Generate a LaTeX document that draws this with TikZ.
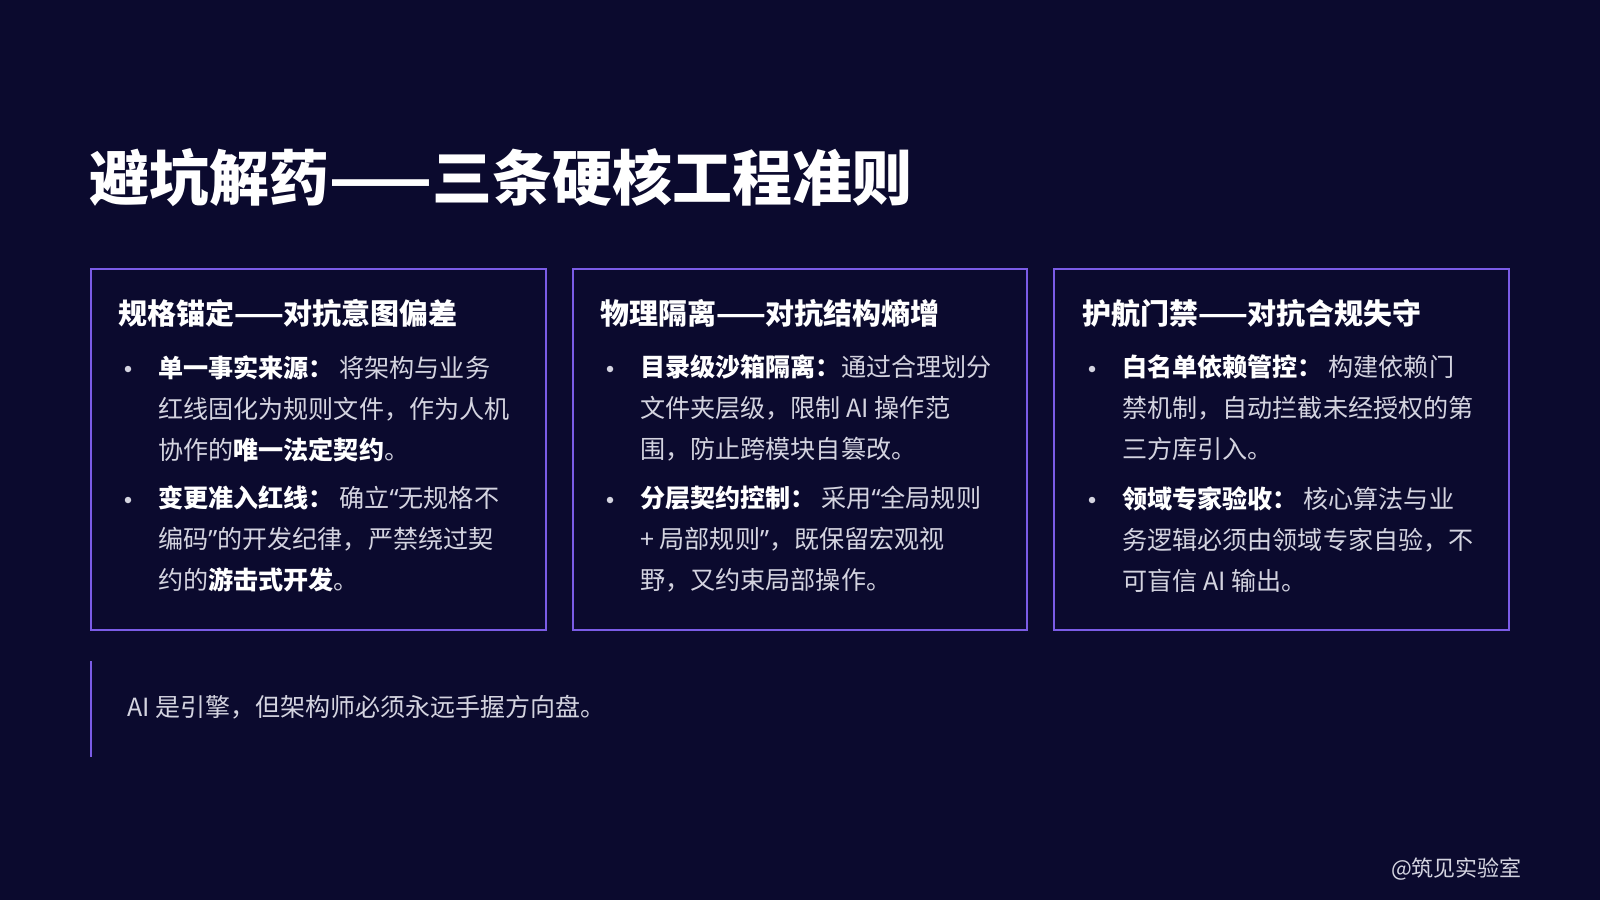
\documentclass[tikz,border=0pt]{standalone}
\usepackage{fontspec}
\setmainfont{Noto Sans CJK SC}
\newfontfamily\latinq{Noto Sans}
\usetikzlibrary{positioning}
\definecolor{bgnavy}{HTML}{0B0A2E}
\definecolor{edgepurple}{HTML}{7B5CE6}
\definecolor{bodygray}{HTML}{D4D4E0}
\begin{document}
\begin{tikzpicture}[x=1pt,y=-1pt]
\tikzstyle{card}=[draw=edgepurple, line width=1.8pt]
\tikzstyle{head}=[anchor=west, inner sep=0, text=white, font=\fontsize{29}{32}\selectfont\bfseries]
\tikzstyle{body}=[anchor=north west, inner sep=0, align=left, text=bodygray, font=\fontsize{25.1}{41}\selectfont]
\tikzstyle{dot}=[circle, fill=bodygray, inner sep=0, minimum size=6.5pt]
\newcommand{\hl}[1]{\textbf{\textcolor{white}{#1}}}
\newcommand{\openq}{{\latinq “}}
\newcommand{\closeq}{{\latinq ”}}

\fill[bgnavy] (0,0) rectangle (1600,900);
\node[anchor=west, inner sep=0, text=white, font=\fontsize{60}{64}\selectfont\bfseries] (title) at (89,178) {避坑解药——三条硬核工程准则};

% three cards
\draw[card] (91,269) rectangle (546,630);
\draw[card] (573,269) rectangle (1027,630);
\draw[card] (1054,269) rectangle (1509,630);

\node[head] (h1) at (118,313) {规格锚定——对抗意图偏差};
\node[head] (h2) at (600,313) {物理隔离——对抗结构熵增};
\node[head] (h3) at (1082,313) {护航门禁——对抗合规失守};

\node[dot] (d11) at (128,369) {};
\node[body] (b11) at (158,355) {\hl{单一事实来源：} 将架构与业务\\红线固化为规则文件，作为人机\\协作的\hl{唯一法定契约}。};
\node[dot] (d12) at (128,500) {};
\node[body] (b12) at (158,486) {\hl{变更准入红线：} 确立\openq 无规格不\\编码\closeq 的开发纪律，严禁绕过契\\约的\hl{游击式开发}。};

\node[dot] (d21) at (610,369) {};
\node[body] (b21) at (640,355) {\hl{目录级沙箱隔离：}通过合理划分\\文件夹层级，限制 AI 操作范\\围，防止跨模块自篡改。};
\node[dot] (d22) at (610,500) {};
\node[body] (b22) at (640,486) {\hl{分层契约控制：} 采用\openq 全局规则\\+ 局部规则\closeq，既保留宏观视\\野，又约束局部操作。};

\node[dot] (d31) at (1092,369) {};
\node[body] (b31) at (1122,355) {\hl{白名单依赖管控：} 构建依赖门\\禁机制，自动拦截未经授权的第\\三方库引入。};
\node[dot] (d32) at (1092,500) {};
\node[body] (b32) at (1122,486) {\hl{领域专家验收：} 核心算法与业\\务逻辑必须由领域专家自验，不\\可盲信 AI 输出。};

% quote
\coordinate (qtop) at (91,661);
\coordinate (qbot) at (91,757);
\draw[edgepurple, line width=2.5pt] (qtop) -- (qbot);
\node[anchor=west, inner sep=0, text=bodygray, font=\fontsize{25}{28}\selectfont] (quote) at (127,707) {AI 是引擎，但架构师必须永远手握方向盘。};

\node[anchor=east, inner sep=0, text=bodygray, font=\fontsize{22}{26}\selectfont] (credit) at (1522,869) {@筑见实验室};
\end{tikzpicture}
\end{document}
